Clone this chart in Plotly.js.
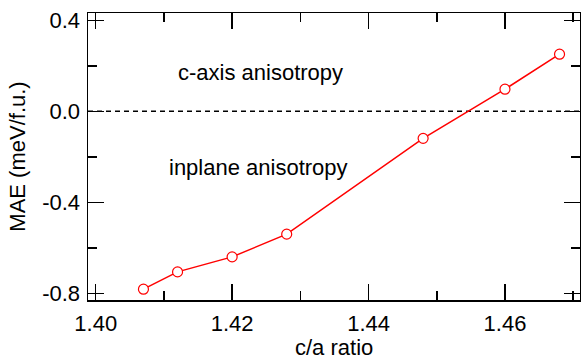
<!DOCTYPE html>
<html>
<head>
<meta charset="utf-8">
<script src="https://cdn.plot.ly/plotly-3.0.1.min.js"></script>
<style>html,body{margin:0;padding:0;background:#fff;}#chart{width:581px;height:360px;}</style>
</head>
<body>
<div id="chart"></div>
<script>
const caRatio = [1.407, 1.412, 1.420, 1.428, 1.448, 1.460, 1.468];
const maeValues = [-0.782, -0.706, -0.640, -0.540, -0.119, 0.097, 0.251];
const xTickVals = [1.40, 1.42, 1.44, 1.46];
const xTickText = ["1.40", "1.42", "1.44", "1.46"];
const yTickVals = [0.4, 0.0, -0.4, -0.8];
const yTickText = ["0.4", "0.0", "-0.4", "-0.8"];
const regionLabels = ["c-axis anisotropy", "inplane anisotropy"];
const regionLabelX = [1.4241, 1.4238];
const regionLabelY = [0.172, -0.247];
const xTitle = "c/a ratio";
const yTitle = "MAE (meV/f.u.)";

const font = {family: "Liberation Sans, Arial, sans-serif", size: 22, color: "#000"};

const trace = {
  x: caRatio, y: maeValues, type: "scatter", mode: "lines+markers",
  line: {color: "#ff0000", width: 1.5},
  marker: {symbol: "circle", size: 10, color: "#ffffff", line: {color: "#ff0000", width: 1.2}},
  showlegend: false, hoverinfo: "skip"
};

const axisCommon = {
  showgrid: false, zeroline: false, showline: true, linecolor: "#000", linewidth: 1.5,
  mirror: "allticks", ticks: "inside", ticklen: 16, tickwidth: 1.5, tickcolor: "#000",
  tickfont: font
};

const annotations = regionLabels.map((t, i) => ({
  text: t, x: regionLabelX[i], y: regionLabelY[i], xref: "x", yref: "y",
  showarrow: false, font: font, xanchor: "center", yanchor: "middle"
}));
annotations.push({
  text: xTitle, xref: "paper", yref: "paper", x: 0.5, y: 0, yshift: -47,
  xanchor: "center", yanchor: "middle", showarrow: false, font: font, borderpad: 0
});

const layout = {
  width: 581, height: 360,
  margin: {l: 88, r: 1, t: 13, b: 60},
  paper_bgcolor: "#fff", plot_bgcolor: "#fff",
  font: font,
  xaxis: Object.assign({}, axisCommon, {
    range: [1.39887, 1.4710],
    tickmode: "array", tickvals: xTickVals, ticktext: xTickText,
    ticklabelstandoff: 3,
    minor: {dtick: 0.01, tick0: 1.41, ticks: "inside", ticklen: 9, tickwidth: 1.5, tickcolor: "#000", showgrid: false}
  }),
  yaxis: Object.assign({}, axisCommon, {
    range: [-0.8295, 0.432],
    tickmode: "array", tickvals: yTickVals, ticktext: yTickText,
    ticklabelstandoff: 2,
    minor: {dtick: 0.2, tick0: 0.2, ticks: "inside", ticklen: 9, tickwidth: 1.5, tickcolor: "#000", showgrid: false},
    title: {text: yTitle, font: font, standoff: 10}
  }),
  shapes: [{
    type: "line", xref: "paper", x0: 0, x1: 1, yref: "y", y0: 0, y1: 0,
    line: {color: "#000", width: 1.5, dash: "5px,4px"}, layer: "below"
  }],
  annotations: annotations
};

Plotly.newPlot("chart", [trace], layout, {staticPlot: true, displayModeBar: false});
</script>
</body>
</html>
